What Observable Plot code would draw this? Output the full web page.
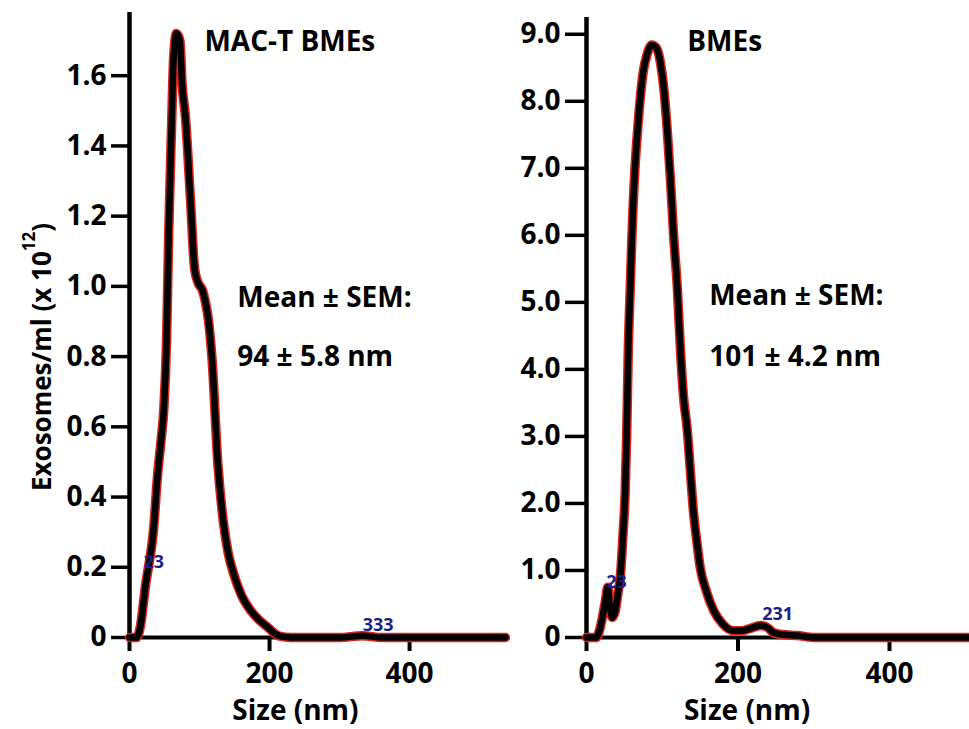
<!DOCTYPE html>
<html><head><meta charset="utf-8">
<script src="https://cdn.jsdelivr.net/npm/d3@7"></script>
<script src="https://cdn.jsdelivr.net/npm/@observablehq/plot@0.6"></script>
<style>
body{margin:0;background:#fff;}
#wrap{position:relative;width:969px;height:729px;overflow:hidden;font-family:"Open Sans",sans-serif;font-weight:700;color:#000;}
.panel{position:absolute;top:0;}
#ytitle{position:absolute;left:41px;top:357px;transform:translate(-50%,-50%) rotate(-90deg);white-space:nowrap;font-size:26px;font-weight:700;}
#ytitle sup{font-size:17px;vertical-align:0;position:relative;top:-16px;}
</style></head><body><div id="wrap"><div id="ytitle">Exosomes/ml (x 10<sup>12</sup>)</div></div>
<script>
// MAC-T BMEs panel
const macSize = [0,10,13,17,20,23,27,31,34,40,45,49,53,56,60,63,67,72,75,80,87,93,98,104,108,113,118,126,134,141,149,160,173,185,197,207,216,230,300,333,360,537];
const macConc = [0,0,0.01,0.05,0.10,0.15,0.20,0.25,0.30,0.46,0.56,0.65,0.85,1.15,1.45,1.65,1.72,1.70,1.58,1.48,1.25,1.05,1.01,0.99,0.96,0.90,0.79,0.50,0.33,0.24,0.18,0.12,0.077,0.05,0.03,0.012,0.003,0,0,0.005,0,0];
const macYTicks = [0,0.2,0.4,0.6,0.8,1.0,1.2,1.4,1.6];
// BMEs panel
const bmeSize = [0,13,17,21,25,28,31,34,38,42,45,48,51,53,55,58,60,64,67,71,75,80,86,92,98,102,107,111,115,120,124,128,133,137,141,146,150,158,168,180,194,205,215,230,240,247,262,278,300,505];
const bmeConc = [0,0,0.1,0.3,0.55,0.75,0.45,0.3,0.4,0.7,0.95,1.5,2.15,3.0,4.2,5.3,6.0,7.0,7.5,8.05,8.45,8.7,8.84,8.8,8.55,8.2,7.5,6.8,6.0,5.2,4.3,3.6,3.1,2.5,1.9,1.4,1.05,0.7,0.4,0.2,0.1,0.1,0.13,0.18,0.14,0.07,0.04,0.03,0,0];
const bmeYTicks = [0,1,2,3,4,5,6,7,8,9];
const xTicks = [0,200,400];
const panelTitles = ["MAC-T BMEs","BMEs"];
const meanLines = [["Mean ± SEM:","94 ± 5.8 nm"],["Mean ± SEM:","101 ± 4.2 nm"]];
const peakTags = [[{x:20,y:0.214,t:"23"},{x:333,y:0.034,t:"333"}],[{x:26,y:0.82,t:"23"},{x:232,y:0.34,t:"231"}]];
const xTitle = "Size (nm)";

const FONT = "'Open Sans', sans-serif";

function panel(o){
  const data = o.sizes.map((s,i)=>({s, c:o.conc[i]}));
  const ann = [
    {x:o.titlePos[0], y:o.titlePos[1], t:o.title},
    {x:o.meanPos[0], y:o.meanPos[1], t:o.mean[0]},
    {x:o.meanPos[0], y:o.meanPos[2], t:o.mean[1]}
  ];
  return Plot.plot({
    width:o.width, height:729,
    marginLeft:o.ml, marginRight:o.mr, marginTop:o.mt, marginBottom:92,
    x:{domain:[0,o.xMax]}, y:{domain:[0,o.yMax]},
    style:{background:"transparent", fontFamily:FONT, overflow:"visible", color:"#000"},
    marks:[
      Plot.axisY(o.yTicks,{tickSize:o.tick, tickPadding:5, tickFormat:o.fmt, fontSize:28, fontWeight:700, strokeWidth:3.5, label:null}),
      Plot.axisX(xTicks,{tickSize:14, tickPadding:12, fontSize:28, fontWeight:700, strokeWidth:4, label:null}),
      Plot.ruleY([0],{x1:0, x2:o.xMax, strokeWidth:4}),
      Plot.ruleX([0],{y1:0, y2:o.yMax, strokeWidth:4.5}),
      Plot.line(data,{x:"s", y:"c", stroke:"#d8261c", strokeWidth:9.5, curve:"monotone-x"}),
      Plot.line(data,{x:"s", y:"c", stroke:"#000", strokeWidth:6.5, curve:"monotone-x"}),
      Plot.text(o.tags,{x:"x", y:"y", text:"t", textAnchor:"start", fill:"#1b1f8a", fontSize:18, fontWeight:700}),
      Plot.text(ann,{x:"x", y:"y", text:"t", textAnchor:"start", fontSize:28, fontWeight:700}),
      Plot.text([{x:o.xTitleX, t:xTitle}],{x:"x", text:"t", frameAnchor:"bottom", dy:82, fontSize:28, fontWeight:700})
    ]
  });
}

const wrap = document.getElementById("wrap");
const left = panel({sizes:macSize, conc:macConc, width:510, ml:129, mr:5, mt:12, xMax:537, yMax:1.78,
  yTicks:macYTicks, tick:18, fmt:d=>d===0?"0":d.toFixed(1),
  title:panelTitles[0], titlePos:[107,1.695], mean:meanLines[0], meanPos:[154,0.966,0.798],
  tags:peakTags[0], xTitleX:237});
left.classList.add("panel"); left.style.left="0px";
wrap.appendChild(left);

const right = panel({sizes:bmeSize, conc:bmeConc, width:459, ml:76, mr:0, mt:17, xMax:505.6, yMax:9.25,
  yTicks:bmeYTicks, tick:21, fmt:d=>d===0?"0":d.toFixed(1),
  title:panelTitles[1], titlePos:[133,8.88], mean:meanLines[1], meanPos:[162,5.09,4.18],
  tags:peakTags[1], xTitleX:212});
right.classList.add("panel"); right.style.left="510px";
wrap.appendChild(right);
</script>
</body></html>
